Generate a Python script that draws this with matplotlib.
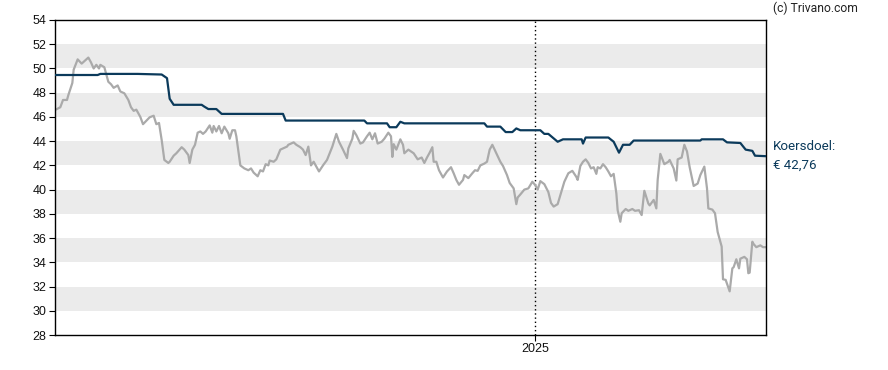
import matplotlib.pyplot as plt

plt.rcParams['font.family'] = ['Roboto', 'DejaVu Sans']

# koers (grijs), dagen sinds begin van de grafiek
price_days = [0, 4, 6, 9, 10, 13, 14, 17, 20, 22, 25, 27, 29, 31, 33, 34, 37, 40, 42, 44,
              47, 49, 52, 55, 57, 59, 61, 64, 66, 69, 71, 74, 76, 78, 80, 82, 85, 86, 89, 91,
              95, 97, 100, 101, 103, 105, 107, 109, 111, 113, 116, 118, 119, 121, 123, 125, 127, 130, 131, 133,
              135, 136, 139, 142, 145, 147, 149, 151, 152, 154, 156, 158, 160, 161, 164, 166, 169, 171, 174, 175,
              179, 181, 184, 186, 188, 190, 192, 194, 198, 201, 204, 208, 211, 213, 216, 219, 220, 223, 224, 226,
              229, 231, 234, 236, 238, 240, 242, 245, 247, 250, 252, 253, 254, 256, 259, 261, 262, 265, 269, 272,
              275, 277, 279, 281, 283, 284, 286, 288, 291, 294, 297, 299, 301, 303, 306, 307, 310, 313, 315, 317,
              319, 322, 324, 326, 328, 331, 334, 336, 339, 341, 344, 346, 347, 349, 352, 355, 358, 360, 362, 364,
              367, 370, 372, 374, 377, 379, 382, 385, 388, 391, 392, 394, 396, 398, 400, 402, 404, 406, 407, 409,
              411, 413, 415, 417, 419, 421, 422, 424, 425, 428, 430, 433, 435, 438, 440, 442, 445, 446, 449, 451,
              452, 454, 457, 460, 461, 464, 466, 467, 470, 472, 474, 476, 479, 482, 484, 487, 489, 490, 493, 495,
              497, 500, 501, 503, 506, 508, 509, 511, 513, 514, 517, 519, 520, 521, 523, 524, 526, 529, 531, 533]
price = [46.57, 46.8, 47.4, 47.4, 47.8, 48.8, 49.9, 50.75, 50.4, 50.6, 50.9, 50.5, 50.0, 50.3, 50.0, 50.3, 50.1, 48.9, 48.7, 48.4,
         48.6, 48.1, 47.95, 47.4, 46.8, 46.5, 46.6, 46.0, 45.4, 45.75, 45.97, 46.1, 45.4, 45.5, 44.1, 42.45, 42.2, 42.3, 42.8, 43.0,
         43.5, 43.3, 42.85, 42.2, 43.3, 43.7, 44.7, 44.8, 44.6, 44.8, 45.3, 44.7, 45.25, 44.8, 45.25, 44.65, 45.2, 44.65, 44.2, 44.9,
         44.9, 44.4, 42.0, 41.75, 41.6, 41.75, 41.4, 41.2, 41.1, 41.6, 41.5, 42.1, 42.0, 42.4, 42.3, 42.5, 43.3, 43.4, 43.55, 43.7,
         43.9, 43.7, 43.5, 43.3, 42.85, 43.55, 42.0, 42.3, 41.5, 42.0, 42.45, 43.55, 44.6, 43.95, 43.3, 42.6, 43.4, 44.2, 44.85, 44.5,
         43.8, 43.9, 44.4, 44.7, 44.15, 44.65, 43.8, 43.95, 44.2, 44.7, 44.4, 42.7, 43.75, 43.3, 44.15, 43.7, 43.0, 43.3, 43.0, 42.5,
         42.65, 42.2, 42.65, 43.05, 43.5, 42.3, 42.3, 41.6, 41.0, 41.5, 41.85, 41.35, 40.8, 40.4, 40.8, 41.2, 40.95, 41.35, 41.6, 41.55,
         42.0, 42.15, 42.3, 43.3, 43.7, 43.0, 42.3, 41.95, 41.2, 40.55, 40.1, 38.8, 39.35, 39.6, 40.0, 40.1, 40.65, 40.4, 40.0, 40.7,
         40.45, 39.8, 38.9, 38.6, 38.8, 39.55, 40.65, 41.35, 41.55, 41.05, 40.8, 41.95, 42.3, 42.5, 42.2, 41.75, 41.85, 41.3, 41.85, 41.75,
         42.1, 41.85, 41.5, 41.1, 41.3, 39.7, 38.3, 37.35, 38.05, 38.4, 38.25, 38.4, 38.25, 38.3, 37.9, 39.9, 38.85, 38.7, 39.15, 38.45,
         40.8, 42.95, 42.1, 42.3, 42.45, 41.75, 40.75, 42.5, 42.65, 43.7, 43.15, 41.85, 40.3, 40.5, 41.2, 41.9, 40.1, 38.45, 38.35, 38.05,
         36.5, 35.3, 32.6, 32.55, 31.6, 33.5, 33.6, 34.25, 33.5, 34.3, 34.45, 34.25, 33.1, 33.15, 35.7, 35.5, 35.25, 35.4, 35.25, 35.25]

# koersdoel (donkerblauw)
target_days = [0, 32, 34, 62, 80, 84, 86, 89, 110, 112, 115, 121, 125, 171, 173, 232, 234, 249, 251, 256,
               259, 262, 322, 324, 334, 338, 343, 346, 349, 364, 367, 370, 377, 381, 395, 396, 398, 415, 419, 423,
               426, 431, 434, 484, 485, 501, 504, 514, 518, 523, 525, 533]
target = [49.46, 49.46, 49.55, 49.55, 49.5, 49.2, 47.5, 47.0, 47.0, 46.85, 46.65, 46.65, 46.25, 46.25, 45.7, 45.7, 45.47, 45.47, 45.15, 45.15,
          45.6, 45.47, 45.47, 45.2, 45.2, 44.75, 44.75, 45.05, 44.9, 44.9, 44.6, 44.6, 43.95, 44.15, 44.15, 43.8, 44.3, 44.3, 43.95, 43.05,
          43.7, 43.7, 44.05, 44.05, 44.15, 44.15, 43.9, 43.85, 43.3, 43.2, 42.8, 42.76]

year_day = 360
year_label = '2025'
x_end = 533.25
y_ticks = list(range(28, 55, 2))
bands = [(30, 32), (34, 36), (38, 40), (42, 44), (46, 48), (50, 52)]

fig = plt.figure(figsize=(8.88, 3.70), dpi=100)
ax = fig.add_axes([55 / 888, 1 - 335 / 370, 711 / 888, 315 / 370])

for lo, hi in bands:
    ax.axhspan(lo, hi, color='#ebebeb', lw=0, zorder=0)

ax.axvline(year_day, color='black', ls=(0, (1, 2)), lw=1, zorder=1)
ax.plot(price_days, price, color='#aaaaaa', lw=1.6, zorder=2)
ax.plot(target_days, target, color='#0b3a5b', lw=1.6, zorder=3)

ax.set_xlim(0, x_end)
ax.set_ylim(28, 54)
ax.set_yticks(y_ticks)
ax.set_xticks([year_day])
ax.set_xticklabels([year_label])
ax.tick_params(axis='both', labelsize=9, colors='black', length=4, width=0.8, direction='out', pad=2)
for lbl in ax.get_xticklabels() + ax.get_yticklabels():
    lbl.set_family(['Liberation Sans', 'DejaVu Sans'])
    lbl.set_color('#111111')
for s in ax.spines.values():
    s.set_color('black')
    s.set_linewidth(1.0)

fig.text(773 / 888, 1 - 8 / 370, '(c) Trivano.com', fontsize=8.7, color='#222222', va='center', ha='left')
fig.text(773 / 888, 1 - 147 / 370, 'Koersdoel:', fontsize=9.6, color='#0b3a5b', va='center', ha='left')
fig.text(773 / 888, 1 - 165 / 370, '€ 42,76', fontsize=9.6, color='#0b3a5b', va='center', ha='left')

fig.savefig('out.png', dpi=100)
